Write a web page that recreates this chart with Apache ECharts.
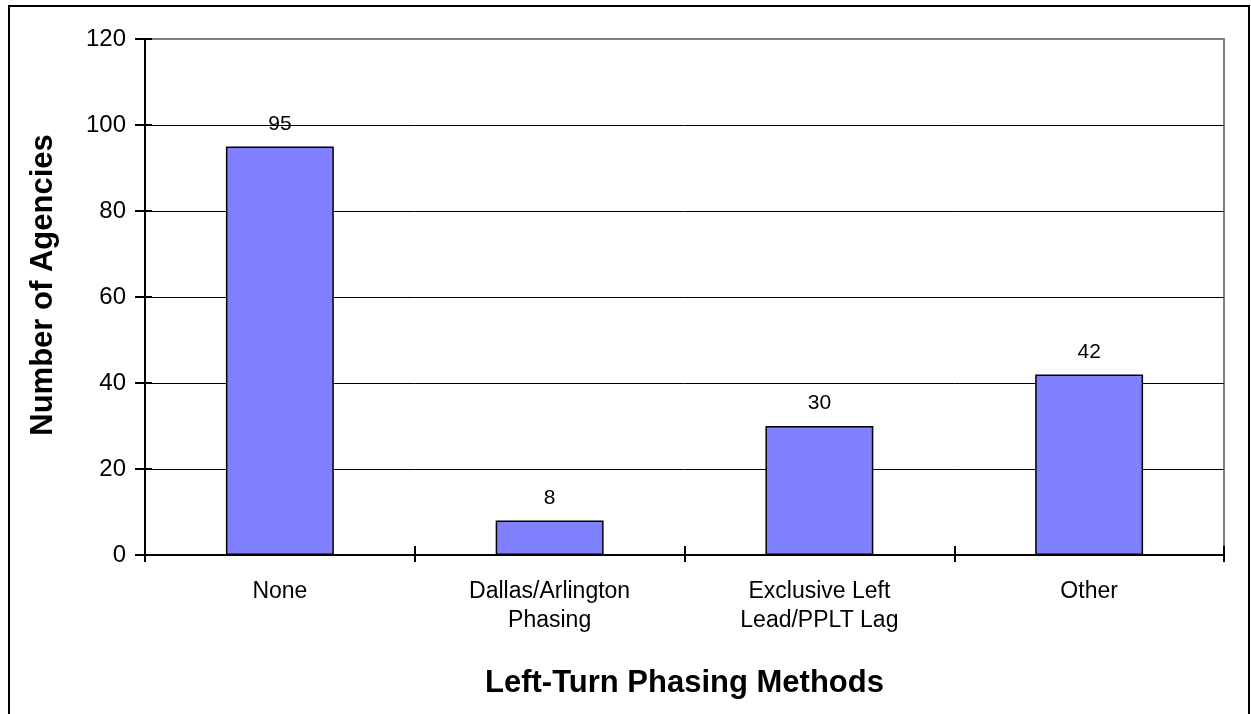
<!DOCTYPE html>
<html>
<head>
<meta charset="utf-8">
<script src="https://cdn.jsdelivr.net/npm/echarts@6/dist/echarts.min.js"></script>
<style>
  html, body { margin: 0; padding: 0; background: #fff; }
  #chart { width: 1251px; height: 714px; }
</style>
</head>
<body>
<div id="chart"></div>
<script>
// Survey results: agencies using each left-turn phasing method
const categories = ['None', 'Dallas/Arlington\nPhasing', 'Exclusive Left\nLead/PPLT Lag', 'Other'];
const agencyCounts = [95, 8, 30, 42];
const yTicks = { min: 0, max: 120, interval: 20 };

const FONT = '"Liberation Sans", Arial, sans-serif';
const chart = echarts.init(document.getElementById('chart'), null, { renderer: 'canvas' });

const gridBox = { left: 145, right: 27, top: 39, bottom: 159 };

chart.setOption({
  animation: false,
  backgroundColor: '#ffffff',
  graphic: [{
    type: 'rect',
    z: 100,
    shape: { x: 9, y: 6, width: 1240, height: 760 },
    style: { fill: 'none', stroke: '#000', lineWidth: 2 }
  }],
  grid: {
    show: true,
    ...gridBox,
    borderColor: '#808080',
    borderWidth: 2,
    backgroundColor: 'transparent'
  },
  xAxis: [{
    type: 'category',
    data: categories,
    position: 'bottom',
    boundaryGap: true,
    axisLine: { show: true, lineStyle: { color: '#000', width: 2 } },
    axisTick: { show: true, alignWithLabel: false, length: 7, inside: false, lineStyle: { color: '#000', width: 2 } },
    axisLabel: {
      color: '#000', fontFamily: FONT, fontSize: 23, lineHeight: 29, margin: 22
    },
    name: 'Left-Turn Phasing Methods',
    nameLocation: 'middle',
    nameGap: 113,
    nameTextStyle: { color: '#000', fontFamily: FONT, fontSize: 31, fontWeight: 'bold' }
  }, {
    // inner half of the crossing category ticks
    type: 'category',
    data: categories,
    position: 'bottom',
    boundaryGap: true,
    axisLine: { show: false },
    axisTick: { show: true, alignWithLabel: false, length: 9, inside: true, lineStyle: { color: '#000', width: 2 } },
    axisLabel: { show: false }
  }],
  yAxis: [{
    type: 'value',
    min: yTicks.min,
    max: yTicks.max,
    interval: yTicks.interval,
    axisLine: { show: true, lineStyle: { color: '#000', width: 2 } },
    axisTick: { show: true, length: 10, lineStyle: { color: '#000', width: 2 } },
    axisLabel: { color: '#000', fontFamily: FONT, fontSize: 24, margin: 19 },
    splitLine: { show: true, showMaxLine: false, lineStyle: { color: '#000', width: 1 } },
    name: 'Number of Agencies',
    nameLocation: 'middle',
    nameGap: 86,
    nameTextStyle: { color: '#000', fontFamily: FONT, fontSize: 31, fontWeight: 'bold', padding: [0, 0, 0, 24] }
  }, {
    // inner half of the crossing value ticks
    type: 'value',
    min: yTicks.min,
    max: yTicks.max,
    interval: yTicks.interval,
    position: 'left',
    axisLine: { show: false },
    axisTick: { show: true, inside: true, length: 7, lineStyle: { color: '#000', width: 2 } },
    axisLabel: { show: false },
    splitLine: { show: false }
  }],
  series: [{
    type: 'bar',
    data: agencyCounts,
    barWidth: '40%',
    itemStyle: { color: '#8080ff', borderColor: '#000', borderWidth: 1.5 },
    label: {
      show: true,
      position: 'top',
      distance: 12,
      color: '#000',
      fontFamily: FONT,
      fontSize: 21
    }
  }]
});
</script>
</body>
</html>
